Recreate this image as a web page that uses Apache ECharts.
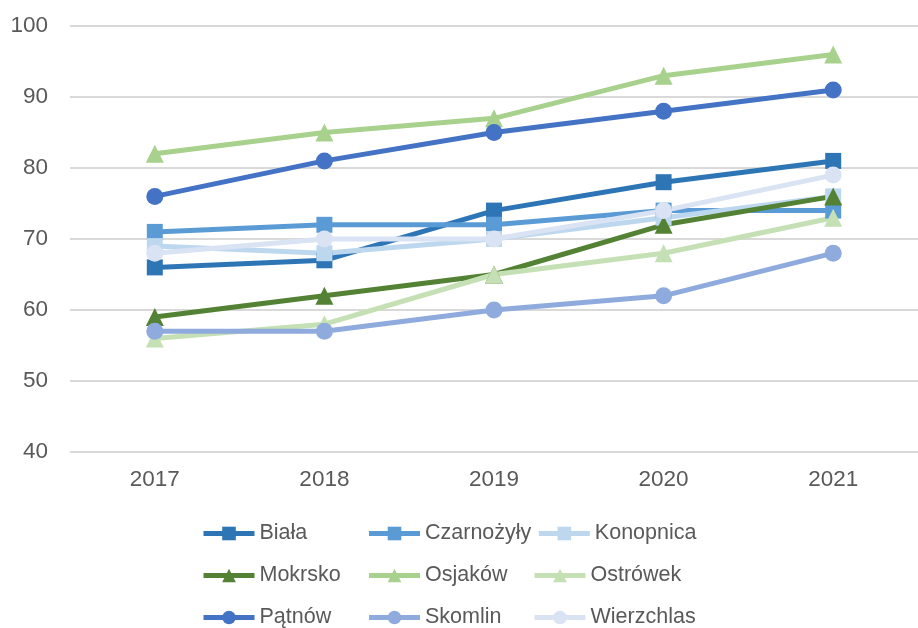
<!DOCTYPE html>
<html>
<head>
<meta charset="utf-8">
<script src="https://cdn.jsdelivr.net/npm/echarts@6/dist/echarts.min.js"></script>
<style>
  html, body { margin: 0; padding: 0; background: #fff; }
  #chart { width: 918px; height: 628px; }
</style>
</head>
<body>
<div id="chart"></div>
<script>
const years = ['2017', '2018', '2019', '2020', '2021'];

const biala = [66, 67, 74, 78, 81];
const czarnozyly = [71, 72, 72, 74, 74];
const konopnica = [69, 68, 70, 73, 76];
const mokrsko = [59, 62, 65, 72, 76];
const osjakow = [82, 85, 87, 93, 96];
const ostrowek = [56, 58, 65, 68, 73];
const patnow = [76, 81, 85, 88, 91];
const skomlin = [57, 57, 60, 62, 68];
const wierzchlas = [68, 70, 70, 74, 79];

const seriesDefs = [
    { name: 'Biała', data: biala, color: '#2E75B6', symbol: 'rect' },
    { name: 'Czarnożyły', data: czarnozyly, color: '#5B9BD5', symbol: 'rect' },
    { name: 'Konopnica', data: konopnica, color: '#BDD7EE', symbol: 'rect' },
    { name: 'Mokrsko', data: mokrsko, color: '#548235', symbol: 'triangle' },
    { name: 'Osjaków', data: osjakow, color: '#A9D18E', symbol: 'triangle' },
    { name: 'Ostrówek', data: ostrowek, color: '#C5E0B4', symbol: 'triangle' },
    { name: 'Pątnów', data: patnow, color: '#4472C4', symbol: 'circle' },
    { name: 'Skomlin', data: skomlin, color: '#8FAADC', symbol: 'circle' },
    { name: 'Wierzchlas', data: wierzchlas, color: '#DAE3F3', symbol: 'circle' }
];

const font = 'Liberation Sans, Arial, sans-serif';

const chart = echarts.init(document.getElementById('chart'));
chart.setOption({
    animation: false,
    backgroundColor: '#fff',
    grid: { left: 70, right: -10, top: 26, bottom: 176, containLabel: false },
    legend: {
        orient: 'horizontal',
        left: 201,
        top: 515,
        width: 505,
        itemWidth: 51,
        itemHeight: 17,
        itemGap: 5,
        padding: 0,
        lineStyle: { width: 5 },
        data: seriesDefs.map(s => s.name),
        textStyle: {
            fontFamily: font, fontSize: 21.5, color: '#595959',
            width: 102, lineHeight: 37, overflow: 'none'
        }
    },
    xAxis: {
        type: 'category',
        data: years,
        boundaryGap: true,
        axisLine: { show: false },
        axisTick: { show: false },
        axisLabel: { fontFamily: font, fontSize: 22.5, color: '#595959', margin: 16 }
    },
    yAxis: {
        type: 'value',
        min: 40,
        max: 100,
        interval: 10,
        axisLine: { show: false },
        axisTick: { show: false },
        axisLabel: { fontFamily: font, fontSize: 22.5, color: '#595959', margin: 22 },
        splitLine: { lineStyle: { color: '#D9D9D9', width: 2 } }
    },
    series: seriesDefs.map(s => ({
        name: s.name,
        type: 'line',
        data: s.data,
        symbol: s.symbol,
        symbolSize: s.symbol === 'rect' ? 16 : (s.symbol === 'triangle' ? 18 : 17),
        showAllSymbol: true,
        color: s.color,
        lineStyle: { width: 5, color: s.color },
        itemStyle: { color: s.color, borderWidth: 0 },
        emphasis: { disabled: true }
    }))
});
</script>
</body>
</html>
